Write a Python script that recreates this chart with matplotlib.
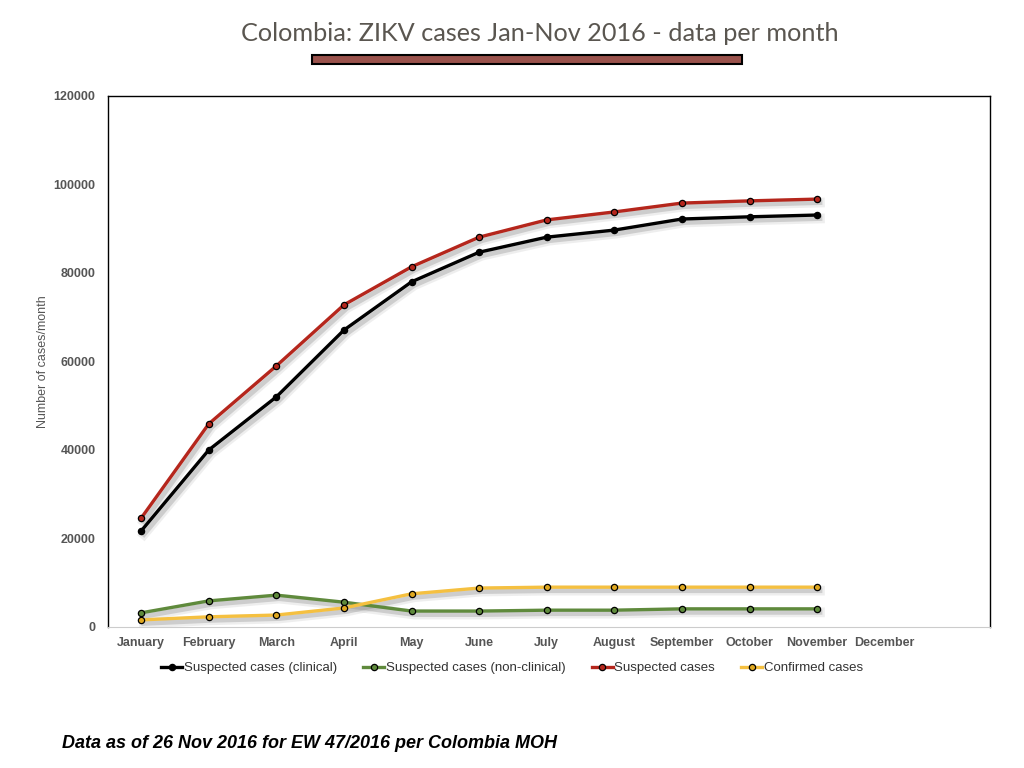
import matplotlib
matplotlib.use('Agg')
import matplotlib.pyplot as plt
import matplotlib.patheffects as pe
from matplotlib.patches import Rectangle

# Données
mois = ['January', 'February', 'March', 'April', 'May', 'June', 'July',
        'August', 'September', 'October', 'November', 'December']
clinical = [21700, 40000, 52000, 67100, 78000, 84700, 88100, 89700, 92200, 92700, 93100]
non_clinical = [3200, 5900, 7200, 5600, 3600, 3600, 3800, 3800, 4100, 4100, 4100]
suspected = [24600, 45900, 59000, 72800, 81400, 88100, 92000, 93800, 95800, 96300, 96700]
confirmed = [1600, 2300, 2700, 4300, 7500, 8800, 9000, 9000, 9000, 9000, 9000]

series = [
    ('Suspected cases (clinical)', clinical, '#000000', '#000000'),
    ('Suspected cases (non-clinical)', non_clinical, '#5f8a3c', '#5f8a3c'),
    ('Suspected cases', suspected, '#b5261c', '#b5261c'),
    ('Confirmed cases', confirmed, '#f5c040', '#e0a820'),
]

gris = '#555555'
fig = plt.figure(figsize=(10.24, 7.68), dpi=100)
ax = fig.add_axes([0.1055, 0.1836, 0.8615, 0.6914])

# ombres floues sous les courbes
ombre = [pe.SimpleLineShadow(offset=(2, -2.5), shadow_color='#999999', alpha=0.16, linewidth=7),
         pe.SimpleLineShadow(offset=(2, -2.5), shadow_color='#888888', alpha=0.32, linewidth=3.5)]
for nom, vals, coul, face in series:
    x = list(range(len(vals)))
    ax.plot(x, vals, color='none', lw=2.4, zorder=2, path_effects=ombre)
    ax.plot(x, vals, color=coul, lw=2.4, label=nom, zorder=3,
            marker='o', markersize=4.5, markerfacecolor=face,
            markeredgecolor='black', markeredgewidth=0.9)

ax.set_xlim(-0.49, 12.56)
ax.set_ylim(0, 120000)
ax.set_xticks(range(len(mois)))
ax.set_xticklabels(mois)
ax.set_yticks(range(0, 120001, 20000))
ax.tick_params(length=0, labelsize=9, labelcolor=gris)
ax.tick_params(axis='x', pad=7)
ax.tick_params(axis='y', pad=9)
for lab in ax.get_xticklabels() + ax.get_yticklabels():
    lab.set_fontfamily('Liberation Sans')
    lab.set_fontweight('bold')
ax.set_ylabel('Number of cases/month', fontsize=9, color=gris,
              fontfamily='Liberation Sans', labelpad=3)
for s in ['left', 'top', 'right']:
    ax.spines[s].set_color('black')
    ax.spines[s].set_linewidth(1)
ax.spines['bottom'].set_color('#cccccc')

fig.legend(loc='center', bbox_to_anchor=(0.5, 0.13), ncol=4, frameon=False,
           handlelength=1.6, handletextpad=0.1, columnspacing=2.0,
           prop={'family': 'Liberation Sans', 'size': 9.5})
for t in fig.legends[0].get_texts():
    t.set_color('#333333')

fig.text(540 / 1024, 0.956, 'Colombia: ZIKV cases Jan-Nov 2016 - data per month',
         ha='center', va='center', fontsize=18.2, color='#5a5650', fontfamily='Lato')
fig.patches.append(Rectangle((312 / 1024, 1 - 64 / 768), 430 / 1024, 9 / 768,
                             transform=fig.transFigure, facecolor='#9a524c',
                             edgecolor='black', linewidth=1.5))
fig.text(62 / 1024, 1 - 744 / 768, 'Data as of 26 Nov 2016 for EW 47/2016 per Colombia MOH',
         ha='left', va='center', fontsize=13, fontweight='bold', fontstyle='italic',
         fontfamily='Liberation Sans')

plt.savefig('out.png', dpi=100)
plt.close()
